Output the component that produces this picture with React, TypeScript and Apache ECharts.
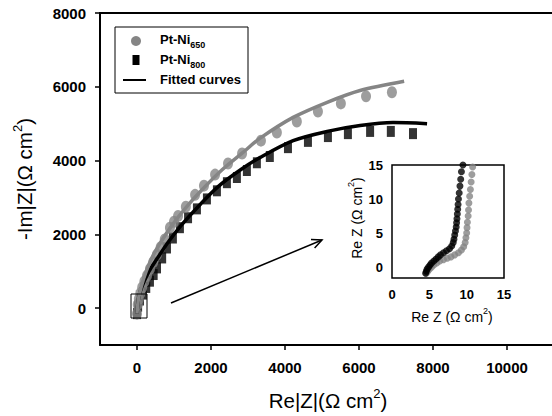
import React, { useEffect, useRef } from "react";
import * as echarts from "echarts";

const mainXTicks = [0, 2000, 4000, 6000, 8000, 10000];
const mainYTicks = [0, 2000, 4000, 6000, 8000];
const insetTicks = [0, 5, 10, 15];

const ptNi650: number[][] = [
  [0, -150], [20, 100], [50, 250], [90, 400], [140, 560], [200, 720], [270, 880], [350, 1060],
  [440, 1250], [540, 1450], [640, 1650], [750, 1860], [890, 2180], [1000, 2340], [1110, 2500],
  [1320, 2750], [1570, 3070], [1810, 3320], [2110, 3620], [2460, 3920], [2840, 4190],
  [3350, 4540], [3780, 4760], [4320, 5060], [4890, 5330], [5510, 5550], [6190, 5740], [6890, 5850],
];
const ptNi800: number[][] = [
  [0, -150], [30, 50], [80, 220], [160, 380], [250, 560], [350, 730], [450, 910], [540, 1090],
  [680, 1360], [810, 1630], [970, 1900], [1160, 2180], [1380, 2450], [1620, 2690], [1890, 2960],
  [2160, 3180], [2430, 3400], [2700, 3540], [2970, 3730], [3240, 3940], [3590, 4110], [4080, 4350],
  [4620, 4520], [5160, 4650], [5700, 4730], [6300, 4790], [6860, 4790], [7460, 4730],
];
const fit650: number[][] = [
  [0, -150], [40, 250], [120, 600], [250, 1000], [420, 1400], [650, 1800], [950, 2250],
  [1300, 2700], [1750, 3200], [2300, 3750], [2840, 4200], [3320, 4600], [4220, 5170],
  [5140, 5580], [6030, 5900], [7220, 6150],
];
const fit800: number[][] = [
  [0, -150], [40, 250], [120, 550], [300, 950], [550, 1350], [850, 1800], [1200, 2250],
  [1650, 2750], [2200, 3300], [2800, 3750], [3320, 4080], [4220, 4540], [5140, 4790],
  [6030, 4950], [6920, 5030], [7840, 5000],
];
const inset800: number[][] = [
  [4.5, -0.9], [4.6, -0.6], [4.7, -0.3], [4.9, 0], [5.1, 0.3], [5.3, 0.6], [5.6, 0.9], [5.9, 1.2],
  [6.2, 1.5], [6.5, 1.8], [6.9, 2.1], [7.3, 2.4], [7.7, 2.7], [8.0, 3.1], [8.2, 3.6], [8.3, 4.1],
  [8.4, 4.7], [8.5, 5.3], [8.6, 5.9], [8.65, 6.5], [8.7, 7.1], [8.75, 7.8], [8.8, 8.5], [8.85, 9.2],
  [8.9, 10.0], [9.0, 10.9], [9.1, 11.9], [9.2, 12.9], [9.3, 14.0], [9.5, 15.0],
];
const inset650: number[][] = [
  [4.6, -0.9], [4.8, -0.6], [5.0, -0.3], [5.3, 0], [5.6, 0.3], [6.0, 0.6], [6.4, 0.9], [6.9, 1.1],
  [7.4, 1.3], [7.9, 1.5], [8.4, 1.8], [8.9, 2.1], [9.3, 2.5], [9.6, 3.0], [9.8, 3.6], [9.9, 4.3],
  [10.0, 5.0], [10.05, 5.8], [10.1, 6.6], [10.2, 7.5], [10.25, 8.4], [10.3, 9.4], [10.4, 10.4],
  [10.5, 11.4], [10.6, 12.5], [10.7, 13.6], [10.8, 14.7],
];

const GRAY = "#858585";
const FONT = "Liberation Sans, Arial, sans-serif";

export default function App() {
  const ref = useRef<HTMLDivElement>(null);
  useEffect(() => {
    if (!ref.current) return;
    const chart = echarts.init(ref.current, null, { renderer: "svg" });
    const plain = (v: number) => String(v);
    const boldLabel = { color: "#000", fontWeight: "bold" as const, fontFamily: FONT, formatter: plain };
    const subRich = {
      b: { fontSize: 13, fontWeight: "bold" as const, fontFamily: FONT, color: "#000", lineHeight: 16, verticalAlign: "top" as const },
      s: { fontSize: 9, fontWeight: "bold" as const, fontFamily: FONT, color: "#000", lineHeight: 9, padding: [9, 0, 0, 0], verticalAlign: "bottom" as const },
    };
    const supRich = (fs: number, ss: number) => ({
      a: { fontSize: fs, fontFamily: FONT, color: "#000", lineHeight: fs + 4, verticalAlign: "bottom" as const },
      p: { fontSize: ss, fontFamily: FONT, color: "#000", lineHeight: ss, verticalAlign: "top" as const },
    });
    chart.setOption({
      animation: false,
      backgroundColor: "#fff",
      grid: [
        { left: 100, top: 13, width: 481, height: 332, outerBoundsMode: "none", containLabel: false, show: false },
        { left: 392, top: 165, width: 112, height: 113, outerBoundsMode: "none", containLabel: false, show: true, borderColor: "#000", borderWidth: 1.5, backgroundColor: "#fff", z: 5 },
      ],
      xAxis: [
        {
          type: "value", gridIndex: 0, min: -1000, max: 12000,
          axisLine: { show: true, onZero: false, lineStyle: { color: "#000", width: 2 } },
          axisTick: { show: true, customValues: mainXTicks, length: 5, lineStyle: { color: "#000", width: 1.5 } },
          axisLabel: { ...boldLabel, fontSize: 15, margin: 15, customValues: mainXTicks },
          splitLine: { show: false },
        },
        {
          type: "value", gridIndex: 1, min: 0, max: 15, z: 6,
          axisLine: { show: false, onZero: false },
          axisTick: { show: false },
          axisLabel: { ...boldLabel, fontSize: 13, margin: 10, customValues: insetTicks },
          splitLine: { show: false },
        },
      ],
      yAxis: [
        {
          type: "value", gridIndex: 0, min: -1000, max: 8000,
          axisLine: { show: true, onZero: false, lineStyle: { color: "#000", width: 2 } },
          axisTick: { show: true, customValues: mainYTicks, length: 5, lineStyle: { color: "#000", width: 1.5 } },
          axisLabel: { ...boldLabel, fontSize: 15, margin: 14, customValues: mainYTicks },
          splitLine: { show: false },
        },
        {
          type: "value", gridIndex: 1, min: -1.6, max: 15, z: 6,
          axisLine: { show: false, onZero: false },
          axisTick: { show: false },
          axisLabel: { ...boldLabel, fontSize: 13, margin: 9, customValues: insetTicks },
          splitLine: { show: false },
        },
      ],
      series: [
        { type: "scatter", xAxisIndex: 0, yAxisIndex: 0, data: ptNi800, symbol: "rect", symbolSize: [8, 11], itemStyle: { color: "#000" }, z: 2 },
        { type: "scatter", xAxisIndex: 0, yAxisIndex: 0, data: ptNi650, symbol: "circle", symbolSize: [10, 12], itemStyle: { color: GRAY }, z: 2 },
        { type: "line", xAxisIndex: 0, yAxisIndex: 0, data: fit800, smooth: 0.3, showSymbol: false, lineStyle: { color: "#000", width: 3.5 }, z: 3 },
        { type: "line", xAxisIndex: 0, yAxisIndex: 0, data: fit650, smooth: 0.3, showSymbol: false, lineStyle: { color: GRAY, width: 3.5 }, z: 3 },
        { type: "scatter", xAxisIndex: 1, yAxisIndex: 1, data: inset650, symbol: "circle", symbolSize: 7, itemStyle: { color: GRAY }, z: 7 },
        { type: "scatter", xAxisIndex: 1, yAxisIndex: 1, data: inset800, symbol: "circle", symbolSize: 7, itemStyle: { color: "#000" }, z: 7 },
      ],
      graphic: [
        { type: "line", shape: { x1: 99, y1: 13, x2: 552, y2: 13 }, style: { stroke: "#000", lineWidth: 2 }, z: 10 },
        { type: "rect", shape: { x: 131, y: 294, width: 16, height: 24 }, style: { fill: "none", stroke: "#000", lineWidth: 1 }, z: 10 },
        { type: "line", shape: { x1: 171, y1: 303, x2: 322, y2: 240 }, style: { stroke: "#000", lineWidth: 1.5 }, z: 10 },
        { type: "polyline", shape: { points: [[314.6, 248.1], [322, 240], [311, 239.5]] }, style: { stroke: "#000", lineWidth: 1.5, fill: "none" }, z: 10 },
        // legend
        { type: "rect", shape: { x: 115, y: 27, width: 133, height: 66 }, style: { fill: "#fff", stroke: "#000", lineWidth: 1 }, z: 10 },
        { type: "circle", shape: { cx: 136, cy: 41, r: 5 }, style: { fill: GRAY }, z: 11 },
        { type: "rect", shape: { x: 132.5, y: 55, width: 7, height: 10 }, style: { fill: "#000" }, z: 11 },
        { type: "line", shape: { x1: 123, y1: 80, x2: 146, y2: 80 }, style: { stroke: "#000", lineWidth: 2 }, z: 11 },
        { type: "text", x: 160, y: 33, z: 11, style: { text: "{b|Pt-Ni}{s|650}", rich: subRich } },
        { type: "text", x: 160, y: 53, z: 11, style: { text: "{b|Pt-Ni}{s|800}", rich: subRich } },
        { type: "text", x: 160, y: 73, z: 11, style: { text: "Fitted curves", fontSize: 13, fontWeight: "bold", fontFamily: FONT, fill: "#000" } },
        // axis titles
        { type: "text", x: 328, y: 399, z: 11, style: { text: "{a|Re|Z|(Ω cm}{p|2}{a|)}", rich: supRich(20.5, 13), align: "center", verticalAlign: "middle" } },
        { type: "text", x: 23, y: 179, rotation: Math.PI / 2, z: 11, style: { text: "{a|-Im|Z|(Ω cm}{p|2}{a|)}", rich: supRich(20.5, 13), align: "center", verticalAlign: "middle" } },
        { type: "text", x: 452, y: 315, z: 11, style: { text: "{a|Re Z (Ω cm}{p|2}{a|)}", rich: supRich(14, 9), align: "center", verticalAlign: "middle" } },
        { type: "text", x: 355, y: 218, rotation: Math.PI / 2, z: 11, style: { text: "{a|Re Z (Ω cm}{p|2}{a|)}", rich: supRich(14, 9), align: "center", verticalAlign: "middle" } },
      ],
    });
    return () => chart.dispose();
  }, []);
  return <div ref={ref} style={{ width: 552, height: 416, position: "absolute", left: 0, top: 0 }} />;
}
